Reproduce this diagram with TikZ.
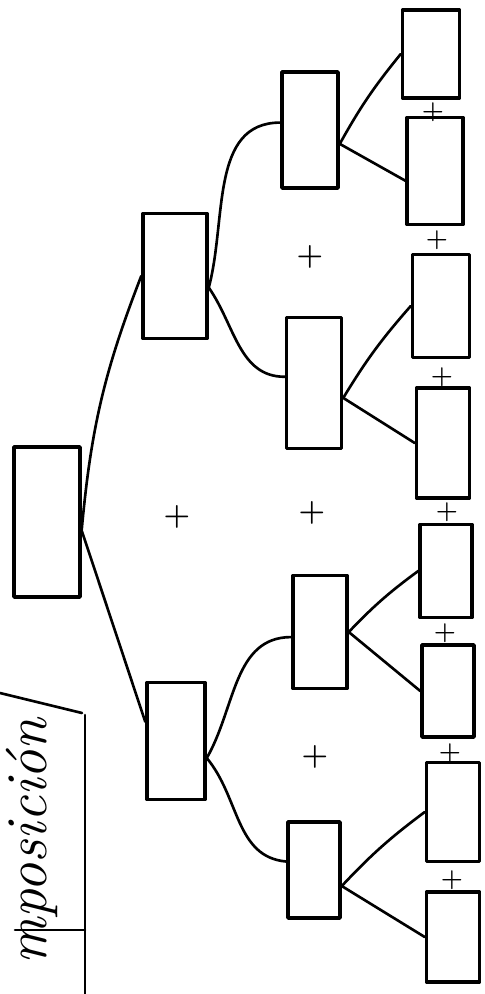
\documentclass[tikz,border=0pt]{standalone}
\usetikzlibrary{positioning}
\tikzset{
  box/.style={draw,line width=2pt,inner sep=0pt,minimum width=1.1cm},
  plus/.style={font=\LARGE\bfseries,inner sep=0pt},
  link/.style={line width=1.5pt}
}
\begin{document}
\begin{tikzpicture}[x=0.02cm,y=0.02cm,line cap=round,line join=round]
  \useasboundingbox (0,0) rectangle (484,-994);
  % boxes
  \node[box,minimum width=1.32cm,minimum height=3.0cm] (root) at (47,-522) {};
  \node[box,minimum width=1.28cm,minimum height=2.5cm] (a) at (175,-276) {};
  \node[box,minimum width=1.16cm,minimum height=2.34cm] (b) at (176,-741) {};
  \node[box,minimum width=1.12cm,minimum height=2.32cm] (c1) at (310,-130) {};
  \node[box,minimum height=2.62cm] (c2) at (314,-383) {};
  \node[box,minimum width=1.08cm,minimum height=2.26cm] (c3) at (320,-632) {};
  \node[box,minimum width=1.04cm,minimum height=1.92cm] (c4) at (314,-870) {};
  \node[box,minimum width=1.14cm,minimum height=1.76cm] (d1) at (431,-54) {};
  \node[box,minimum width=1.12cm,minimum height=2.14cm] (d2) at (435,-171) {};
  \node[box,minimum width=1.14cm,minimum height=2.06cm] (d3) at (441,-306) {};
  \node[box,minimum width=1.06cm,minimum height=2.2cm] (d4) at (443,-443) {};
  \node[box,minimum width=1.04cm,minimum height=1.86cm] (d5) at (446,-571) {};
  \node[box,minimum width=1.04cm,minimum height=1.84cm] (d6) at (448,-691) {};
  \node[box,minimum width=1.06cm,minimum height=1.98cm] (d7) at (453,-812) {};
  \node[box,minimum width=1.06cm,minimum height=1.8cm] (d8) at (453,-937) {};
  % signs
  \node[plus] (pa) at (177,-517) {+};
  \node[plus] (pc1) at (310,-257) {+};
  \node[plus] (pc2) at (312,-513) {+};
  \node[plus] (pc3) at (315,-757) {+};
  \node[plus,font=\Large\bfseries] (pd1) at (433,-112) {+};
  \node[plus,font=\Large\bfseries] (pd2) at (437,-240) {+};
  \node[plus,font=\Large\bfseries] (pd3) at (442,-377) {+};
  \node[plus,font=\Large\bfseries] (pd4) at (447,-512) {+};
  \node[plus,font=\Large\bfseries] (pd5) at (445,-633) {+};
  \node[plus,font=\Large\bfseries] (pd6) at (450,-753) {+};
  \node[plus,font=\Large\bfseries] (pd7) at (452,-880) {+};
  % links
  \draw[link] (root.-12) to[bend left=8] (a.west);
  \draw[link] (root.-14) -- (b.148);
  \draw[link] (a.-19) to[out=75,in=180] (c1.166);
  \draw[link] (a.-19) to[out=-55,in=180] (c2.168);
  \draw[link] (b.-29) to[out=60,in=180] (c3.190);
  \draw[link] (b.-29) to[out=-50,in=175] (c4.163);
  \draw[link] (c1.-25) to[bend left=5] (d1.west);
  \draw[link] (c1.-25) -- (d2.-162);
  \draw[link] (c2.-27) to[bend left=5] (d3.west);
  \draw[link] (c2.-27) -- (d4.west);
  \draw[link] (c3.east) to[bend left=5] (d5.west);
  \draw[link] (c3.east) -- (d6.west);
  \draw[link] (c4.-30) to[bend left=5] (d7.west);
  \draw[link] (c4.-30) -- (d8.west);
  % title
  \node[rotate=90,anchor=base east,inner sep=0pt,font=\fontsize{33}{40}\selectfont\itshape] (title) at (46,-718) {mposición};
  \draw[line width=1.5pt] (85,-715) -- (85,-994);
  \draw[line width=1.5pt] (0,-693) -- (82,-713);
  \draw[line width=1.5pt] (15,-930) -- (85,-930);
\end{tikzpicture}
\end{document}
